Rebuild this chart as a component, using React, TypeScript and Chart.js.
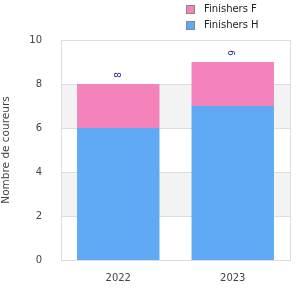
import React, { useEffect, useRef } from "react";
import { Chart, registerables } from "chart.js";
Chart.register(...registerables);

const categories = ["2022", "2023"];
const finishersH = [6, 7];
const finishersF = [2, 2];
const totals = [8, 9];
const yTicks = [0, 2, 4, 6, 8, 10];

const FONT = "'DejaVu Sans', sans-serif";

const bandsPlugin = {
  id: "bands",
  beforeDatasetsDraw(chart: any) {
    const { ctx, chartArea, scales } = chart;
    const y = scales.y;
    ctx.save();
    ctx.fillStyle = "#f3f3f3";
    for (let i = 0; i < yTicks.length - 1; i++) {
      if (i % 2 === 1) {
        const top = y.getPixelForValue(yTicks[i + 1]);
        const bot = y.getPixelForValue(yTicks[i]);
        ctx.fillRect(chartArea.left, top, chartArea.right - chartArea.left, bot - top);
      }
    }
    ctx.strokeStyle = "#dddddd";
    ctx.lineWidth = 1;
    for (const t of yTicks) {
      const py = Math.round(y.getPixelForValue(t)) + 0.5;
      ctx.beginPath();
      ctx.moveTo(chartArea.left, py);
      ctx.lineTo(chartArea.right, py);
      ctx.stroke();
    }
    ctx.strokeRect(
      Math.round(chartArea.left) + 0.5,
      Math.round(chartArea.top) + 0.5,
      Math.round(chartArea.right - chartArea.left),
      Math.round(chartArea.bottom - chartArea.top)
    );
    ctx.restore();
  },
  afterDatasetsDraw(chart: any) {
    const { ctx, scales } = chart;
    ctx.save();
    ctx.fillStyle = "#1a1a8c";
    ctx.font = `9px ${FONT}`;
    ctx.textAlign = "center";
    ctx.textBaseline = "middle";
    totals.forEach((v, i) => {
      const px = scales.x.getPixelForValue(i);
      const py = scales.y.getPixelForValue(v) - 9;
      ctx.save();
      ctx.translate(px, py);
      ctx.rotate(-Math.PI / 2);
      ctx.fillText(String(v), 0, 0);
      ctx.restore();
    });
    const items = [
      { label: "Finishers F", color: "#f383ba" },
      { label: "Finishers H", color: "#60a9f5" },
    ];
    ctx.font = `10px ${FONT}`;
    ctx.textAlign = "left";
    items.forEach((it, i) => {
      const by = 5 + i * 16;
      ctx.fillStyle = it.color;
      ctx.fillRect(186, by, 8, 8);
      ctx.strokeStyle = "#888888";
      ctx.lineWidth = 1;
      ctx.strokeRect(186.5, by + 0.5, 8, 8);
      ctx.fillStyle = "#222222";
      ctx.fillText(it.label, 204, by + 4.5);
    });
    ctx.restore();
  },
};

export default function App() {
  const ref = useRef<HTMLCanvasElement>(null);
  useEffect(() => {
    const chart = new Chart(ref.current!, {
      type: "bar",
      data: {
        labels: categories,
        datasets: [
          { label: "Finishers H", data: finishersH, backgroundColor: "#60a9f5", stack: "s" },
          { label: "Finishers F", data: finishersF, backgroundColor: "#f383ba", stack: "s" },
        ],
      },
      plugins: [bandsPlugin],
      options: {
        animation: false,
        responsive: false,
        layout: { padding: { top: 40, right: 10, left: 0, bottom: 0 } },
        plugins: { legend: { display: false }, tooltip: { enabled: false } },
        scales: {
          x: {
            stacked: true,
            grid: { display: false },
            border: { display: false },
            ticks: { color: "#444", padding: 4, font: { family: FONT, size: 10 } },
            afterFit(scale: any) {
              scale.height = 40;
            },
          },
          y: {
            stacked: true,
            min: 0,
            max: 10,
            grid: { display: false },
            border: { display: false },
            ticks: { stepSize: 2, color: "#444", padding: 11, font: { family: FONT, size: 10 } },
            title: {
              display: true,
              text: "Nombre de coureurs",
              color: "#444",
              padding: { top: 0, bottom: 0 },
              font: { family: FONT, size: 10.5 },
            },
            afterFit(scale: any) {
              scale.width = 61;
            },
          },
        },
      },
    });
    return () => chart.destroy();
  }, []);
  return (
    <div style={{ position: "fixed", left: 0, top: 0, width: 300, height: 300, background: "#fff" }}>
      <canvas ref={ref} width={300} height={300} />
    </div>
  );
}
